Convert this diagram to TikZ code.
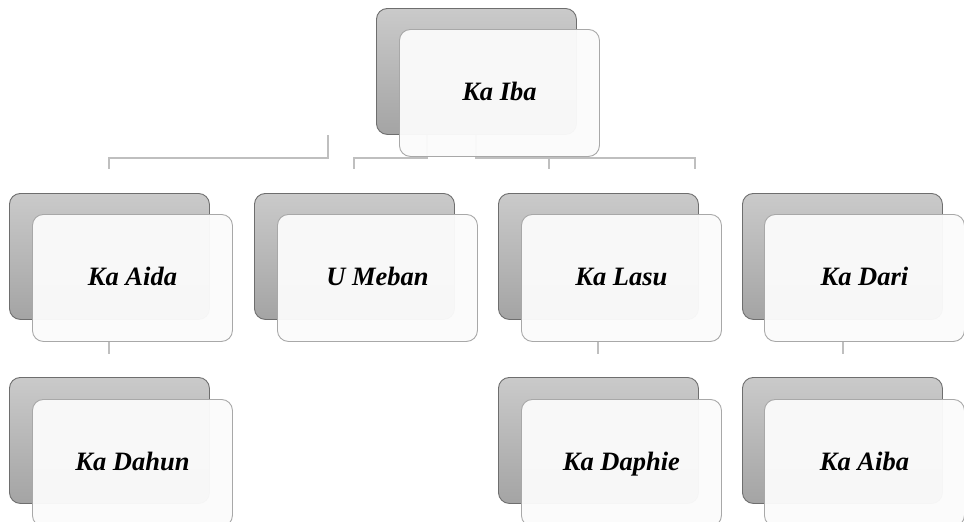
\documentclass[tikz,border=0pt]{standalone}
\usepackage{fontspec}
\setmainfont{Liberation Serif}
\definecolor{conncol}{HTML}{BFBFBF}
\definecolor{darktop}{HTML}{CACACA}
\definecolor{darkbot}{HTML}{A4A4A4}
\definecolor{darkedge}{HTML}{6E6E6E}
\definecolor{liteedge}{HTML}{A8A8A8}
\definecolor{litefill}{HTML}{FBFBFB}
\begin{document}
\begin{tikzpicture}[x=1pt,y=-1pt,
  darkbox/.style={draw=darkedge, line width=0.9pt, rounded corners=11pt,
    top color=darktop, bottom color=darkbot, minimum width=200pt,
    minimum height=126pt, inner sep=0pt, anchor=north west},
  litebox/.style={draw=liteedge, line width=0.9pt, rounded corners=11pt,
    fill=litefill, fill opacity=0.96, text opacity=1, minimum width=200pt,
    minimum height=127pt, inner sep=0pt, anchor=north west,
    text height=17pt, text depth=2pt,
    font=\fontsize{26.5}{30}\selectfont\bfseries\itshape},
  conn/.style={draw=conncol, line width=2pt}]
\useasboundingbox (0,0) rectangle (964,522);
\fill[white] (0,0) rectangle (964,522);

% connectors (drawn below the boxes)
\coordinate (t1) at (328,135);
\coordinate (t2) at (427,135);
\coordinate (t3) at (476,135);
\coordinate (e1) at (109,169);
\coordinate (e2) at (354,169);
\coordinate (e3) at (549,169);
\coordinate (e4) at (695,169);
\coordinate (b3) at (549,158);
\draw[conn] (t1) |- (e1 |- b3) -- (e1);
\draw[conn] (t2) |- (e2 |- b3) -- (e2);
\draw[conn] (t3) |- (e4 |- b3) -- (e4);
\draw[conn] (b3) -- (e3);

% top
\node[darkbox] (ibaD) at (376,8) {};
\node[litebox] (iba) at (399,29) {Ka Iba};

% level 2
\node[darkbox] (aidaD) at (9,193) {};
\node[litebox] (aida) at (32,214) {Ka Aida};
\node[darkbox] (mebanD) at (254,193) {};
\node[litebox] (meban) at (277,214) {U Meban};
\node[darkbox] (lasuD) at (498,193) {};
\node[litebox] (lasu) at (521,214) {Ka Lasu};
\node[darkbox] (dariD) at (742,193) {};
\node[litebox] (dari) at (764,214) {Ka Dari};

% level 2 -> 3 connectors
\coordinate (f1) at (109,354);
\coordinate (f2) at (598,354);
\coordinate (f3) at (843,354);
\draw[conn] (f1 |- aida.south) -- (f1);
\draw[conn] (f2 |- lasu.south) -- (f2);
\draw[conn] (f3 |- dari.south) -- (f3);

% level 3
\node[darkbox] (dahunD) at (9,377) {};
\node[litebox] (dahun) at (32,399) {Ka Dahun};
\node[darkbox] (daphieD) at (498,377) {};
\node[litebox] (daphie) at (521,399) {Ka Daphie};
\node[darkbox] (aibaD) at (742,377) {};
\node[litebox] (aiba) at (764,399) {Ka Aiba};
\end{tikzpicture}
\end{document}
